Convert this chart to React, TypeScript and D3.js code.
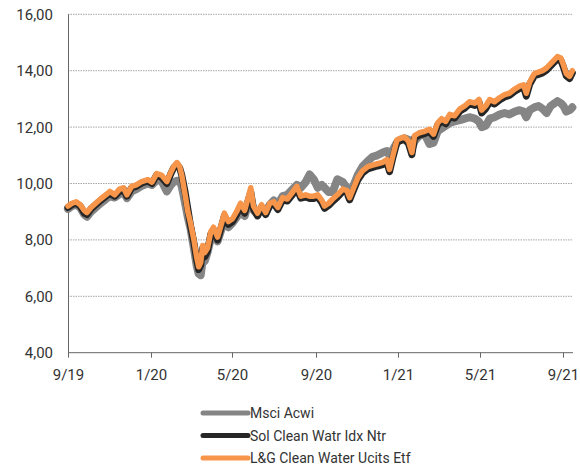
import * as d3 from "d3";

const dates = [
  "2019-09-01", "2019-09-07", "2019-09-13", "2019-09-19", "2019-09-25", "2019-09-29", "2019-10-05", "2019-10-12",
  "2019-10-19", "2019-10-27", "2019-11-02", "2019-11-09", "2019-11-16", "2019-11-22", "2019-11-27", "2019-12-04",
  "2019-12-11", "2019-12-19", "2019-12-28", "2020-01-03", "2020-01-10", "2020-01-17", "2020-01-25", "2020-01-31",
  "2020-02-04", "2020-02-09", "2020-02-13", "2020-02-16", "2020-02-21", "2020-02-25", "2020-02-29", "2020-03-05",
  "2020-03-09", "2020-03-12", "2020-03-15", "2020-03-18", "2020-03-21", "2020-03-25", "2020-03-30", "2020-04-03",
  "2020-04-09", "2020-04-15", "2020-04-19", "2020-04-25", "2020-05-01", "2020-05-07", "2020-05-13", "2020-05-19",
  "2020-05-23", "2020-05-28", "2020-06-01", "2020-06-07", "2020-06-13", "2020-06-19", "2020-06-25", "2020-07-01",
  "2020-07-07", "2020-07-14", "2020-07-21", "2020-07-29", "2020-08-04", "2020-08-10", "2020-08-17", "2020-08-23",
  "2020-08-29", "2020-09-04", "2020-09-10", "2020-09-14", "2020-09-20", "2020-09-26", "2020-10-03", "2020-10-11",
  "2020-10-17", "2020-10-21", "2020-10-27", "2020-11-02", "2020-11-09", "2020-11-17", "2020-11-24", "2020-12-01",
  "2020-12-09", "2020-12-15", "2020-12-19", "2020-12-24", "2020-12-30", "2021-01-04", "2021-01-10", "2021-01-16",
  "2021-01-21", "2021-01-25", "2021-02-01", "2021-02-09", "2021-02-16", "2021-02-22", "2021-02-28", "2021-03-06",
  "2021-03-12", "2021-03-18", "2021-03-25", "2021-04-02", "2021-04-09", "2021-04-16", "2021-04-24", "2021-04-30",
  "2021-05-04", "2021-05-10", "2021-05-16", "2021-05-23", "2021-05-31", "2021-06-07", "2021-06-14", "2021-06-22",
  "2021-06-29", "2021-07-05", "2021-07-09", "2021-07-14", "2021-07-21", "2021-07-27", "2021-08-02", "2021-08-08",
  "2021-08-14", "2021-08-20", "2021-08-24", "2021-08-29", "2021-09-02", "2021-09-06", "2021-09-11", "2021-09-15",
];

const msciAcwi = [
  9.1, 9.2, 9.25, 9.15, 8.9, 8.82, 9.0, 9.15, 9.3, 9.45, 9.55, 9.5, 9.62, 9.7, 9.48, 9.72,
  9.8, 9.92, 10.0, 9.95, 10.12, 10.1, 9.72, 9.95, 10.05, 10.1, 10.1, 9.9, 9.3, 8.8, 8.4, 7.7,
  7.1, 6.8, 6.75, 7.3, 7.25, 7.55, 8.05, 8.2, 7.95, 8.4, 8.6, 8.45, 8.6, 8.8, 9.0, 8.85,
  9.2, 9.45, 9.05, 8.9, 9.15, 8.95, 9.25, 9.4, 9.25, 9.55, 9.6, 9.8, 9.95, 9.85, 10.05, 10.32,
  10.15, 9.85, 9.95, 9.85, 9.7, 9.7, 10.15, 10.05, 9.85, 9.6, 9.95, 10.3, 10.6, 10.8, 10.95, 11.0,
  11.1, 11.15, 11.0, 11.2, 11.45, 11.55, 11.6, 11.55, 11.25, 11.5, 11.7, 11.75, 11.4, 11.45, 11.85, 11.95,
  12.05, 12.15, 12.2, 12.25, 12.3, 12.35, 12.3, 12.2, 12.0, 12.05, 12.3, 12.35, 12.45, 12.5, 12.45, 12.55,
  12.6, 12.55, 12.35, 12.6, 12.7, 12.75, 12.65, 12.5, 12.75, 12.85, 12.92, 12.85, 12.75, 12.55, 12.6, 12.7,
];

const solCleanWater = [
  9.15, 9.25, 9.3, 9.2, 8.95, 8.9, 9.1, 9.25, 9.4, 9.55, 9.65, 9.55, 9.72, 9.8, 9.55, 9.85,
  9.9, 10.02, 10.08, 10.0, 10.3, 10.22, 10.0, 10.35, 10.55, 10.68, 10.55, 10.3, 9.7, 9.1, 8.5, 7.9,
  7.3, 6.95, 7.1, 7.7, 7.4, 7.6, 8.2, 8.35, 8.0, 8.5, 8.85, 8.55, 8.65, 8.9, 9.2, 8.95,
  9.3, 9.7, 9.1, 8.85, 9.15, 8.9, 9.22, 9.28, 9.08, 9.42, 9.38, 9.62, 9.82, 9.48, 9.52, 9.47,
  9.47, 9.52, 9.32, 9.12, 9.22, 9.37, 9.52, 9.72, 9.67, 9.42, 9.77, 10.12, 10.37, 10.52, 10.57, 10.62,
  10.67, 10.77, 10.42, 10.92, 11.47, 11.52, 11.57, 11.42, 11.02, 11.62, 11.72, 11.77, 11.84, 11.67, 12.07, 12.22,
  12.12, 12.37, 12.32, 12.57, 12.67, 12.82, 12.77, 12.9, 12.5, 12.65, 12.9, 12.82, 12.97, 13.07, 13.12, 13.27,
  13.37, 13.42, 13.1, 13.52, 13.82, 13.87, 13.92, 14.02, 14.17, 14.32, 14.42, 14.37, 14.12, 13.82, 13.72, 13.92,
];

const lgCleanWater = [
  9.2, 9.3, 9.35, 9.25, 9.05, 8.97, 9.15, 9.3, 9.45, 9.6, 9.72, 9.6, 9.8, 9.85, 9.6, 9.9,
  9.95, 10.07, 10.14, 10.05, 10.35, 10.3, 10.07, 10.4, 10.6, 10.74, 10.6, 10.3, 9.6, 9.0, 8.6, 8.0,
  7.4, 7.05, 7.2, 7.8, 7.55, 7.7, 8.3, 8.45, 8.1, 8.6, 8.95, 8.65, 8.75, 9.0, 9.3, 9.05,
  9.4, 9.85, 9.2, 8.95, 9.25, 8.97, 9.3, 9.35, 9.15, 9.5, 9.45, 9.7, 9.9, 9.55, 9.6, 9.55,
  9.55, 9.6, 9.4, 9.2, 9.3, 9.45, 9.6, 9.8, 9.75, 9.5, 9.85, 10.2, 10.45, 10.6, 10.65, 10.7,
  10.75, 10.85, 10.5, 11.0, 11.55, 11.6, 11.65, 11.5, 11.1, 11.7, 11.8, 11.85, 11.92, 11.75, 12.15, 12.3,
  12.2, 12.45, 12.4, 12.65, 12.75, 12.9, 12.85, 12.98, 12.6, 12.75, 12.98, 12.9, 13.05, 13.15, 13.2, 13.35,
  13.45, 13.5, 13.2, 13.6, 13.9, 13.95, 14.0, 14.1, 14.25, 14.4, 14.5, 14.45, 14.2, 13.9, 13.8, 14.0,
];

const yTicks = [4, 6, 8, 10, 12, 14, 16];
const xTicks = ["2019-09-01", "2020-01-01", "2020-05-01", "2020-09-01", "2021-01-01", "2021-05-01", "2021-09-01"];

const seriesNames = ["Msci Acwi", "Sol Clean Watr Idx Ntr", "L&G Clean Water Ucits Etf"];
const seriesColors = ["#858585", "#262626", "#f7964a"];
const seriesWidths = [8, 7, 5.5];

const W = 580;
const H = 465;
const left = 68;
const right = 573;
const top = 14.3;
const bottom = 352.7;
const font = "Roboto, 'DejaVu Sans', sans-serif";

export default function App() {
  const parse = d3.utcParse("%Y-%m-%d");
  const xs = dates.map((d) => parse(d) as Date);
  const x = d3
    .scaleUtc()
    .domain([parse("2019-09-01") as Date, parse("2021-09-16") as Date])
    .range([left, right]);
  const y = d3.scaleLinear().domain([4, 16]).range([bottom, top]);
  const fmt = d3.utcFormat("%-m/%y");

  const line = d3
    .line<number>()
    .x((_, i) => x(xs[i]))
    .y((d) => y(d))
    .curve(d3.curveLinear);

  const series = [msciAcwi, solCleanWater, lgCleanWater];

  return (
    <svg width={W} height={H} style={{ position: "absolute", left: 0, top: 0 }} fontFamily={font}>
      <rect width={W} height={H} fill="#fff" />
      {yTicks.map((t) => (
        <g key={t}>
          {t > 4 && (
            <line x1={left} x2={right} y1={y(t)} y2={y(t)} stroke="#a6a6a6" strokeWidth={1} strokeDasharray="1.5,1" />
          )}
          <text x={53} y={y(t)} dy="0.36em" textAnchor="end" fontSize={15} fill="#333">
            {d3.format(".2f")(t).replace(".", ",")}
          </text>
        </g>
      ))}
      <line x1={left + 0.5} x2={left + 0.5} y1={top} y2={bottom} stroke="#666" strokeWidth={1} />
      <line x1={left} x2={right} y1={bottom} y2={bottom} stroke="#666" strokeWidth={1} />
      {xTicks.map((s) => {
        const d = parse(s) as Date;
        const px = Math.round(x(d)) + 0.5;
        return (
          <g key={s}>
            <line x1={px} x2={px} y1={bottom} y2={bottom + 5} stroke="#666" strokeWidth={1} />
            <text x={px} y={380} textAnchor="middle" fontSize={15} fill="#333">
              {fmt(d)}
            </text>
          </g>
        );
      })}
      {series.map((s, i) => (
        <path
          key={i}
          d={line(s) ?? ""}
          fill="none"
          stroke={seriesColors[i]}
          strokeWidth={seriesWidths[i]}
          strokeLinejoin="round"
          strokeLinecap="round"
        />
      ))}
      {seriesNames.map((n, i) => {
        const ly = 413 + i * 22.5;
        return (
          <g key={n}>
            <line x1={203} x2={248} y1={ly} y2={ly} stroke={seriesColors[i]} strokeWidth={5} strokeLinecap="round" />
            <text x={250} y={ly} dy="0.36em" fontSize={14} fill="#333">
              {n}
            </text>
          </g>
        );
      })}
    </svg>
  );
}
